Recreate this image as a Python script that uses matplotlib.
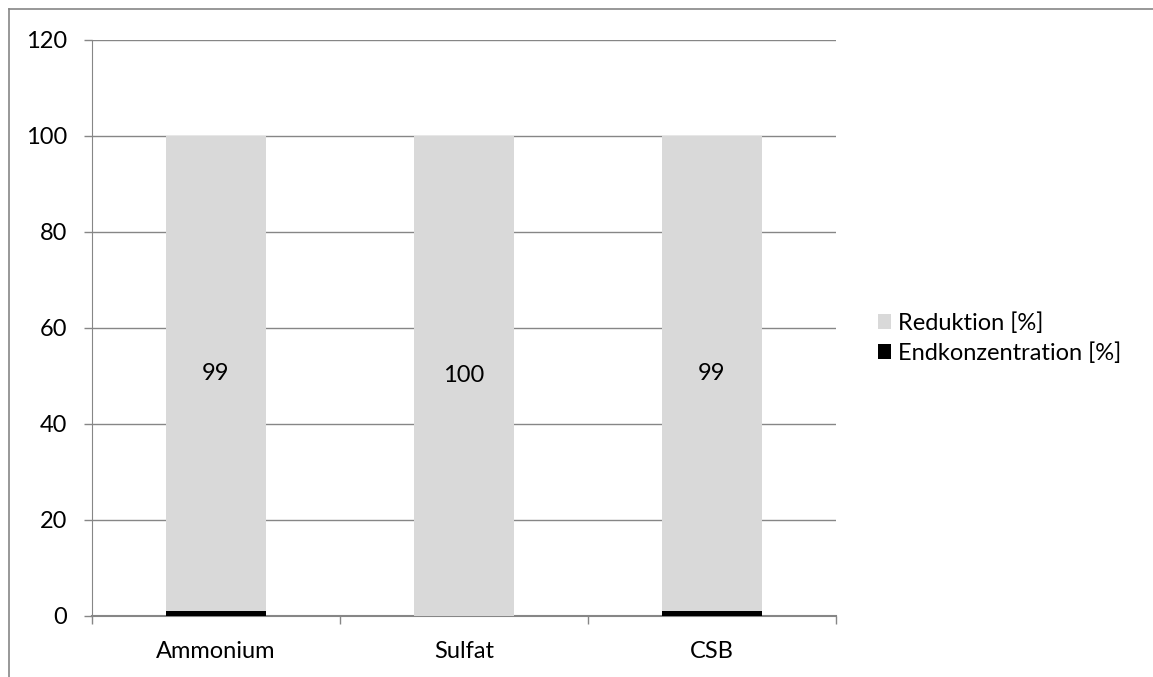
import matplotlib
matplotlib.use("Agg")
import matplotlib.pyplot as plt
from matplotlib.lines import Line2D
from matplotlib.patches import Patch

categories = ["Ammonium", "Sulfat", "CSB"]
endkonzentration = [1, 0, 1]
reduktion = [99, 100, 99]
yticks = [0, 20, 40, 60, 80, 100, 120]

plt.rcParams['font.family'] = ['Lato', 'DejaVu Sans']
W, H = 1153, 677
FS = 17
fig = plt.figure(figsize=(W/100, H/100), dpi=100)
ax = fig.add_axes([92/W, 1-616/H, 744/W, 576/H])

x = list(range(len(categories)))
ax.bar(x, endkonzentration, width=0.4, color="#000000", zorder=3)
bars = ax.bar(x, reduktion, width=0.4, bottom=endkonzentration, color="#d9d9d9", zorder=3)
for xi, r, e in zip(x, reduktion, endkonzentration):
    ax.text(xi, e + r/2, f"{r}", ha="center", va="center", fontsize=FS, color="black", zorder=4)

ax.set_xlim(-0.5, 2.5)
ax.set_ylim(0, 120)
ax.set_yticks(yticks)
ax.set_yticklabels([str(t) for t in yticks], fontsize=FS)
ax.yaxis.grid(True, color="#868686", linewidth=1)
ax.set_axisbelow(True)
ax.set_xticks(x)
ax.set_xticklabels(categories, fontsize=FS)
ax.tick_params(axis="x", length=0, pad=18)
ax.set_xticks([-0.5, 0.5, 1.5, 2.5], minor=True)
ax.tick_params(axis="x", which="minor", length=6, color="#868686", width=1)
ax.tick_params(axis="y", length=6, color="#868686", width=1, pad=12)
for s in ["top", "right"]:
    ax.spines[s].set_visible(False)
ax.spines["left"].set_color("#868686")
ax.spines["bottom"].set_color("#868686")
ax.spines["bottom"].set_linewidth(1.5)

handles = [Patch(facecolor="#d9d9d9", label="Reduktion [%]"),
           Patch(facecolor="#000000", label="Endkonzentration [%]")]
fig.legend(handles=handles, loc="center left", bbox_to_anchor=(878/W, 1-338/H),
           frameon=False, fontsize=FS, handlelength=0.55, handleheight=0.55,
           handletextpad=0.3, labelspacing=0.35, borderaxespad=0, borderpad=0)

fig.add_artist(Line2D([9/W, 9/W], [0, 1-9/H], transform=fig.transFigure, color="#868686", linewidth=1.2))
fig.add_artist(Line2D([9/W, 1], [1-9/H, 1-9/H], transform=fig.transFigure, color="#868686", linewidth=1.2))

fig.savefig("out.png", dpi=100)
